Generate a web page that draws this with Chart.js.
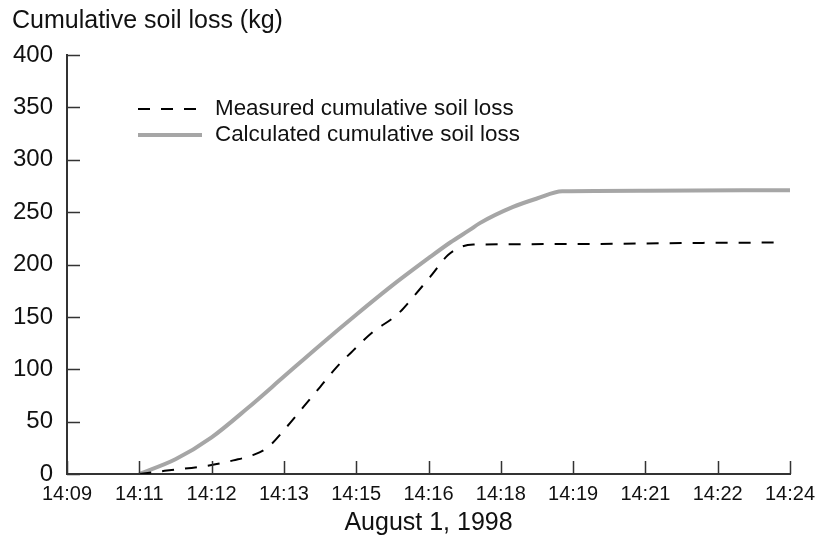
<!DOCTYPE html>
<html>
<head>
<meta charset="utf-8">
<script src="https://cdn.jsdelivr.net/npm/chart.js@4.4.1/dist/chart.umd.min.js"></script>
<style>
  html, body { margin: 0; padding: 0; background: #fff; }
  #wrap { width: 820px; height: 540px; position: relative; }
</style>
</head>
<body>
<div id="wrap"><canvas id="chart-soil" width="820" height="540"></canvas></div>
<script>
// ---- Data ----
// x positions are in axis-step units (one step between neighbouring time labels)

const timeLabels = ['14:09','14:11','14:12','14:13','14:15','14:16','14:18','14:19','14:21','14:22','14:24']
const yTicks     = [0, 50, 100, 150, 200, 250, 300, 350, 400]

const measuredX = [1.0, 1.35, 2.0, 2.3, 2.57, 2.77, 3.04, 3.27, 3.5, 3.73, 3.96, 4.23,  4.51, 4.61, 4.74, 5.02, 5.27, 5.46, 5.62, 7.0,   8.5,   9.86]
const measuredY = [0,   3,    8.5, 13,  18,   25,   45,   64,   83,  102,  118,  135.5, 149,  155,  165,  188,  209,  217,  219,  219.5, 220.5, 221]

const calcX = [1.0, 1.5, 2.0, 2.5, 3.0, 3.5, 4.0, 4.5, 5.0, 5.3, 5.57, 5.71,  6.17, 6.5, 6.85, 8.0,   10.0]
const calcY = [0,   14,  35,  63,  93,  123, 152, 180, 206, 221, 233,  239.5, 255,  263, 270,  270.5, 271]

const seriesNames = ['Measured cumulative soil loss', 'Calculated cumulative soil loss']

const FONT = 'Liberation Sans, Arial, sans-serif'
const AXIS = '#333'

function toPoints(xs, ys) {
  return xs.map((x, i) => ({ x, y: ys[i] }))
}

// ---- Plugins: inward tick marks, y title, inset legend ----

const innerTicks = {
  id: 'innerTicks',
  afterDatasetsDraw(chart) {
    const { ctx, chartArea, scales } = chart
    ctx.save()
    ctx.strokeStyle = AXIS
    ctx.lineWidth = 1.5
    ctx.beginPath()
    timeLabels.forEach((_, i) => {
      const px = Math.round(scales.x.getPixelForValue(i)) + 0.5
      ctx.moveTo(px, chartArea.bottom)
      ctx.lineTo(px, chartArea.bottom - 13)
    })
    yTicks.forEach(v => {
      const py = Math.round(scales.y.getPixelForValue(v)) + 0.5
      ctx.moveTo(chartArea.left, py)
      ctx.lineTo(chartArea.left + 13, py)
    })
    ctx.stroke()
    ctx.restore()
  }
}

const yTitle = {
  id: 'yTitle',
  afterDraw(chart) {
    const ctx = chart.ctx
    ctx.save()
    ctx.fillStyle = '#111'
    ctx.font = `25px ${FONT}`
    ctx.textBaseline = 'middle'
    ctx.textAlign = 'left'
    ctx.fillText('Cumulative soil loss (kg)', 12, 21)
    ctx.restore()
  }
}

const insetLegend = {
  id: 'insetLegend',
  afterDraw(chart) {
    const ctx = chart.ctx
    const rows = [109, 135]
    ctx.save()
    chart.data.datasets.forEach((ds, i) => {
      const y = rows[i]
      ctx.strokeStyle = ds.borderColor
      ctx.lineWidth = ds.borderWidth
      ctx.setLineDash(ds.borderDash || [])
      ctx.beginPath()
      ctx.moveTo(138, y)
      ctx.lineTo(202, y)
      ctx.stroke()
      ctx.setLineDash([])
      ctx.fillStyle = '#111'
      ctx.font = `22.4px ${FONT}`
      ctx.textBaseline = 'middle'
      ctx.fillText(ds.label, 215, y)
    })
    ctx.restore()
  }
}

// ---- Chart ----

const ctx = document.getElementById('chart-soil').getContext('2d')
new Chart(ctx, {
  type: 'line',
  data: {
    datasets: [
      {
        label: seriesNames[0],
        data: toPoints(measuredX, measuredY),
        borderColor: '#000',
        borderWidth: 2,
        borderDash: [12, 11],
        pointRadius: 0,
        cubicInterpolationMode: 'monotone',
        fill: false
      },
      {
        label: seriesNames[1],
        data: toPoints(calcX, calcY),
        borderColor: '#a6a6a6',
        borderWidth: 4,
        pointRadius: 0,
        cubicInterpolationMode: 'monotone',
        fill: false
      }
    ]
  },
  options: {
    responsive: false,
    animation: false,
    events: [],
    layout: { padding: { top: 55, right: 30, left: 0, bottom: 0 } },
    plugins: {
      legend: { display: false },
      tooltip: { enabled: false }
    },
    scales: {
      x: {
        type: 'linear',
        min: 0,
        max: timeLabels.length - 1,
        afterBuildTicks: s => { s.ticks = timeLabels.map((_, i) => ({ value: i })) },
        afterFit: s => { s.height = 66; s.paddingRight = 0 },
        grid: { display: true, drawOnChartArea: false, drawTicks: false },
        border: { color: AXIS, width: 2 },
        ticks: {
          padding: 8,
          color: '#111',
          font: { family: FONT, size: 20 },
          maxRotation: 0,
          autoSkip: false,
          callback: v => timeLabels[v]
        },
        title: {
          display: true,
          text: 'August 1, 1998',
          color: '#111',
          font: { family: FONT, size: 25 },
          padding: { top: 0, bottom: 2 }
        }
      },
      y: {
        min: 0,
        max: 400,
        afterBuildTicks: s => { s.ticks = yTicks.map(v => ({ value: v })) },
        afterFit: s => { s.width = 67 },
        grid: { display: true, drawOnChartArea: false, drawTicks: false },
        border: { color: AXIS, width: 2 },
        ticks: {
          padding: 14,
          color: '#111',
          font: { family: FONT, size: 24 }
        }
      }
    }
  },
  plugins: [innerTicks, yTitle, insetLegend]
})
</script>
</body>
</html>
